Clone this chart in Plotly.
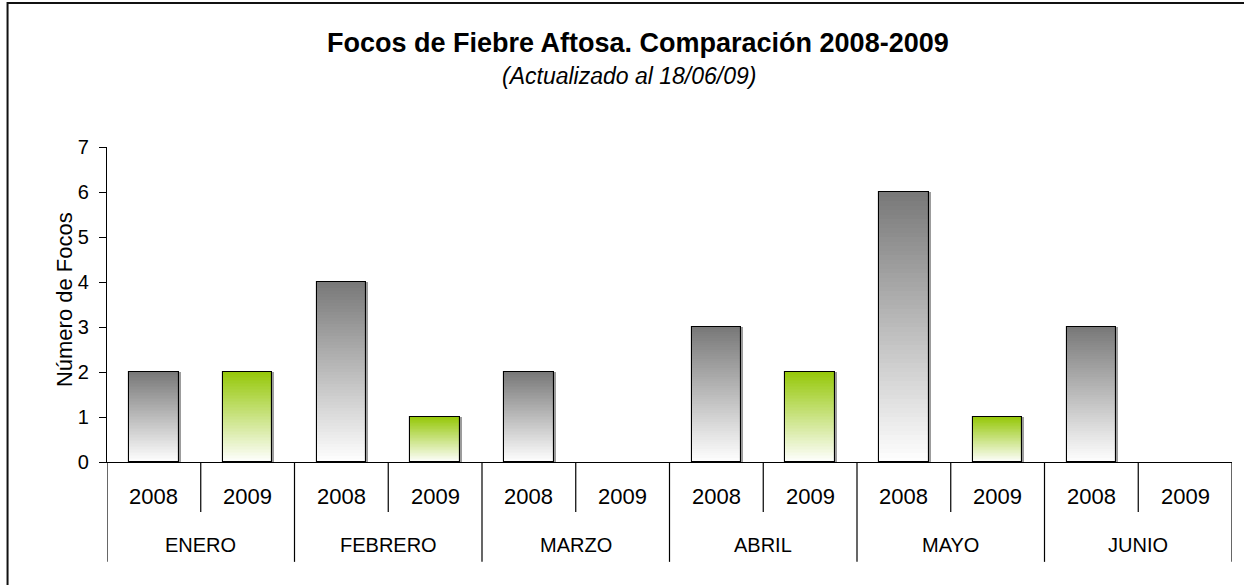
import plotly.graph_objects as go

months = ["ENERO", "FEBRERO", "MARZO", "ABRIL", "MAYO", "JUNIO"]
years = ["2008", "2009"]
focos_2008 = [2, 4, 2, 3, 6, 3]
focos_2009 = [2, 1, 0, 2, 1, 0]
y_ticks = [0, 1, 2, 3, 4, 5, 6, 7]

title = "Focos de Fiebre Aftosa. Comparación 2008-2009"
subtitle = "(Actualizado al 18/06/09)"
y_title = "Número de Focos"

FONT = "Liberation Sans, Arial, sans-serif"
N_LAYERS = 60
BAR_W = 0.526
SHADOW_DX = 0.022


def lerp(c0, c1, t):
    return "rgb(%d,%d,%d)" % tuple(round(a + (b - a) * t) for a, b in zip(c0, c1))


series = [
    (focos_2008, 0, (255, 255, 255), (120, 120, 120)),
    (focos_2009, 1, (255, 255, 255), (150, 200, 10)),
]

fig = go.Figure()
for values, yi, bottom_c, top_c in series:
    xs = [2 * mi + yi for mi in range(len(months))]
    fig.add_trace(go.Bar(
        x=[x + SHADOW_DX for x in xs],
        y=[v if v else None for v in values],
        width=BAR_W,
        marker=dict(color="rgba(90,90,90,0.6)", line=dict(width=0)),
        showlegend=False, hoverinfo="skip",
    ))
    for k in range(N_LAYERS):
        t = (k + 0.5) / N_LAYERS
        fig.add_trace(go.Bar(
            x=xs,
            y=[v / N_LAYERS if v else None for v in values],
            base=[v * k / N_LAYERS for v in values],
            width=BAR_W,
            marker=dict(color=lerp(bottom_c, top_c, t), line=dict(width=0)),
            showlegend=False, hoverinfo="skip",
        ))
    fig.add_trace(go.Bar(
        x=xs,
        y=[v if v else None for v in values],
        width=BAR_W,
        marker=dict(color="rgba(0,0,0,0)", line=dict(color="#000000", width=1.1)),
        showlegend=False, name=years[yi],
    ))

n_slots = len(months) * len(years)
annotations = []
shapes = []
for mi, m in enumerate(months):
    for yi, yr in enumerate(years):
        pos = mi * len(years) + yi
        annotations.append(dict(x=pos, y=-0.108, xref="x", yref="paper", text=yr,
                                xanchor="center", yanchor="middle",
                                showarrow=False, font=dict(size=22, color="#000")))
    center = mi * len(years) + (len(years) - 1) / 2
    annotations.append(dict(x=center, y=-0.263, xref="x", yref="paper", text=m,
                            xanchor="center", yanchor="middle",
                            showarrow=False, font=dict(size=20, color="#000")))
    for yi in range(1, len(years)):
        xd = mi * len(years) + yi - 0.5
        shapes.append(dict(type="line", xref="x", yref="paper", x0=xd, x1=xd,
                           y0=0, y1=-0.159, line=dict(color="#000", width=1.2)))
for mi in range(len(months) + 1):
    xd = mi * len(years) - 0.5
    shapes.append(dict(type="line", xref="x", yref="paper", x0=xd, x1=xd,
                       y0=0, y1=-0.317, line=dict(color="#000", width=1.2)))

shapes.append(dict(type="rect", xref="paper", yref="paper",
                   x0=-0.0884, x1=1.2, y0=1.457, y1=-1.0,
                   line=dict(color="#111", width=2), fillcolor="rgba(0,0,0,0)", layer="below"))

annotations.append(dict(x=0.4724, y=1.330, xref="paper", yref="paper", xanchor="center",
                        yanchor="middle", text="<b>" + title + "</b>", showarrow=False,
                        font=dict(size=27, color="#000")))
annotations.append(dict(x=0.4636, y=1.225, xref="paper", yref="paper", xanchor="center",
                        yanchor="middle", text="<i>" + subtitle + "</i>", showarrow=False,
                        font=dict(size=23, color="#000")))
annotations.append(dict(x=-0.0382, y=0.514, xref="paper", yref="paper", xanchor="center",
                        yanchor="middle", text=y_title, textangle=-90, showarrow=False,
                        font=dict(size=22, color="#000")))

fig.update_layout(
    width=1244, height=585,
    margin=dict(l=107, r=12, t=147, b=123),
    paper_bgcolor="white", plot_bgcolor="white",
    barmode="overlay", bargap=0,
    font=dict(family=FONT, size=20, color="#000"),
    shapes=shapes, annotations=annotations,
    xaxis=dict(range=[-0.5, n_slots - 0.5], showticklabels=False, ticks="",
               showgrid=False, zeroline=False, showline=True, linecolor="#000",
               linewidth=1.2, fixedrange=True),
    yaxis=dict(range=[0, 7], tickvals=y_ticks, ticks="outside", ticklen=7,
               tickcolor="#000", tickwidth=1.2, showline=True, linecolor="#000",
               linewidth=1.2, showgrid=False, zeroline=False, ticklabelstandoff=6,
               tickfont=dict(size=20), fixedrange=True),
)

fig.write_html("out.html", config={"displayModeBar": False},
               post_script="document.body.style.margin='0';")
